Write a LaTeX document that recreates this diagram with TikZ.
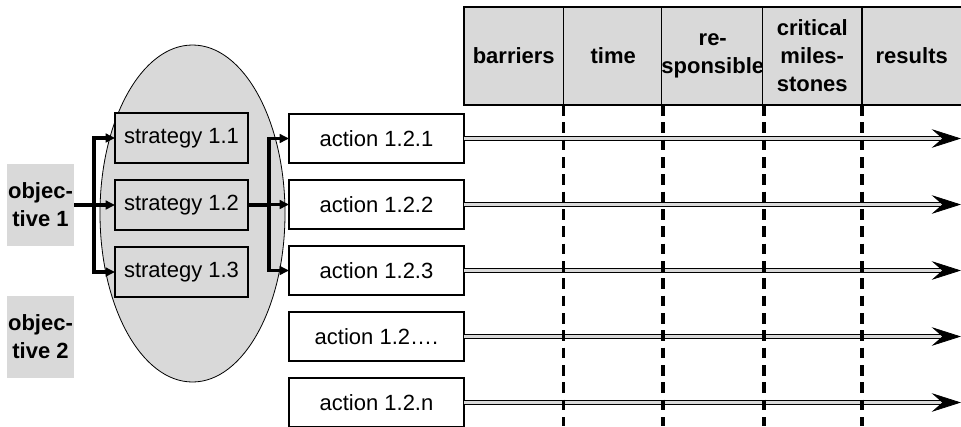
\documentclass[tikz,border=0pt]{standalone}
\usepackage{fontspec}
\setmainfont{Liberation Sans}
\usetikzlibrary{arrows.meta,positioning,shapes.geometric}
\definecolor{planfill}{HTML}{D9D9D9}
\definecolor{planink}{HTML}{000000}
\newcommand{\planfont}{\fontsize{16.5}{21}\selectfont}
\tikzset{
  box/.style={draw=planink, line width=0.8pt, inner sep=0pt, outer sep=0pt,
    align=center, font=\planfont},
  goal/.style={box, draw=none, fill=planfill, minimum width=50.25pt,
    minimum height=61pt, font=\planfont\bfseries},
  cluster/.style={ellipse, draw=planink, line width=0.6pt, fill=planfill,
    minimum width=138.75pt, minimum height=252.75pt, inner sep=0pt},
  strat/.style={box, fill=planfill, minimum width=99.75pt, minimum height=37.5pt},
  act/.style={box, fill=white, minimum width=131.25pt, minimum height=36.75pt},
  head/.style={box, fill=planfill, minimum width=74.6pt, minimum height=73.5pt,
    font=\planfont\bfseries},
  link/.style={-{Triangle[length=7pt,width=6.5pt]}, line width=2.4pt, planink},
  track/.style={draw=planink, line width=1pt, double=planfill,
    double distance=1.6pt, shorten >=12pt},
  tiphead/.style={-{Stealth[length=22pt,width=14pt,inset=8pt]}, line width=0.6pt,
    planink},
  sep/.style={planink, line width=2.6pt, dash pattern=on 8pt off 5pt},
}
\begin{document}
\begin{tikzpicture}[x=0.75pt, y=-0.75pt]
\useasboundingbox (0,0) rectangle (961,426);

\coordinate (bottom) at (0,426);
\coordinate (right) at (961,0);

% objectives
\node[goal] (obj1) at (40.5,205) {objec-\\tive 1};
\node[goal] (obj2) at (40.5,337) {objec-\\tive 2};

% strategies, grouped in the ellipse
\node[cluster] (ell) at (192.5,213.5) {};
\node[strat] (str1) at (181.5,138) {strategy 1.1};
\node[strat, below=12.75pt of str1] (str2) {strategy 1.2};
\node[strat, below=12.75pt of str2] (str3) {strategy 1.3};

% actions
\node[act] (act1) at (376.5,138.5) {action 1.2.1};
\node[act, below=12.75pt of act1] (act2) {action 1.2.2};
\node[act, below=12.75pt of act2] (act3) {action 1.2.3};
\node[act, below=12.75pt of act3] (act4) {action 1.2….};
\node[act, below=12.75pt of act4] (act5) {action 1.2.n};

% table head
\foreach \txt [count=\i] in {barriers, time, {re-\\sponsible},
    {critical\\miles-\\stones}, results}
  \node[head] (h\i) at ({414.25+99.5*\i},56) {\txt};

\draw[link] (obj1.east) -- (str2.west);
\draw[link] (obj1.east) -- ++(20,0) |- (str1.west);
\draw[link] (obj1.east) -- ++(20,0) |- (str3.west);
\foreach \a in {act1,act2,act3}
  \draw[link] (str2.east) -- ++(21,0) |- (\a.west);

\foreach \i in {1,...,5} {
  \coordinate (end\i) at (act\i.east -| right);
  \draw[track] (act\i.east) -- (end\i);
  \draw[tiphead] ([xshift=-14pt]end\i) -- (end\i);
}

\foreach \i in {1,...,4}
  \draw[sep] (h\i.south east) -- (h\i.south east |- bottom);

\end{tikzpicture}
\end{document}
